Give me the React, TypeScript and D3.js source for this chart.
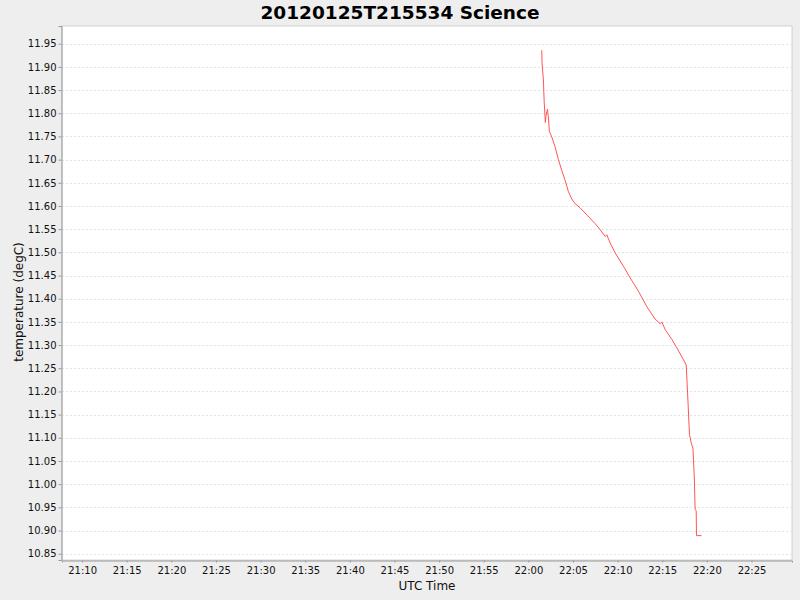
import React, { useEffect, useRef } from "react";
import * as d3 from "d3";

// Sample times (UTC, HH:MM:SS) and temperatures
const times: string[] = [
  "22:01:30", "22:01:32", "22:01:41", "22:01:46", "22:01:54", "22:01:59",
  "22:02:08", "22:02:14", "22:02:21", "22:02:37", "22:02:59", "22:03:22",
  "22:03:45", "22:04:07", "22:04:29", "22:04:52", "22:05:14", "22:05:48",
  "22:06:35", "22:07:29", "22:08:02", "22:08:36", "22:08:47", "22:09:10",
  "22:09:43", "22:10:39", "22:11:24", "22:12:20", "22:13:16", "22:14:12",
  "22:14:46", "22:14:57", "22:15:20", "22:16:05", "22:16:38", "22:17:23",
  "22:17:41", "22:17:50", "22:18:03", "22:18:08", "22:18:16", "22:18:26",
  "22:18:35", "22:18:41", "22:18:48", "22:18:50", "22:19:24",
];

const temperatures: number[] = [
  11.936, 11.907, 11.872, 11.826, 11.78, 11.795,
  11.809, 11.793, 11.761, 11.749, 11.728, 11.7,
  11.676, 11.655, 11.631, 11.615, 11.605, 11.596,
  11.58, 11.562, 11.549, 11.534, 11.538, 11.52,
  11.499, 11.47, 11.445, 11.416, 11.383, 11.356,
  11.346, 11.35, 11.333, 11.312, 11.294, 11.268,
  11.257, 11.197, 11.107, 11.1, 11.087, 11.078,
  11.017, 10.945, 10.943, 10.889, 10.889,
];

const xDomain: string[] = ["21:07:45", "22:29:32"];
const yDomain: number[] = [10.8364, 11.9882];
const yTicks: number[] = [
  10.85, 10.9, 10.95, 11.0, 11.05, 11.1, 11.15, 11.2, 11.25, 11.3, 11.35, 11.4,
  11.45, 11.5, 11.55, 11.6, 11.65, 11.7, 11.75, 11.8, 11.85, 11.9, 11.95,
];

const title = "20120125T215534 Science";
const xLabel = "UTC Time";
const yLabel = "temperature (degC)";

const W = 800;
const H = 600;
const plot = { left: 62, top: 26, right: 792, bottom: 560 };
const FONT = "'DejaVu Sans', Verdana, sans-serif";

export default function App() {
  const svgRef = useRef<SVGSVGElement | null>(null);

  useEffect(() => {
    if (!svgRef.current) return;
    document.body.style.margin = "0";

    const svg = d3.select(svgRef.current);
    svg.selectAll("*").remove();

    const parse = d3.utcParse("%Y-%m-%d %H:%M:%S");
    const day = "2012-01-25 ";
    const data = times.map((t, i) => ({ t: parse(day + t) as Date, v: temperatures[i] }));

    const x = d3.scaleUtc()
      .domain(xDomain.map((t) => parse(day + t) as Date))
      .range([plot.left, plot.right]);
    const y = d3.scaleLinear().domain(yDomain).range([plot.bottom, plot.top]);

    // backgrounds
    svg.append("rect").attr("width", W).attr("height", H).attr("fill", "#eeeeee");
    svg.append("rect")
      .attr("x", plot.left).attr("y", plot.top)
      .attr("width", plot.right - plot.left).attr("height", plot.bottom - plot.top)
      .attr("fill", "#ffffff")
      .attr("stroke", "#aaaaaa").attr("stroke-width", 0.5);

    // horizontal gridlines
    svg.append("g")
      .selectAll("line")
      .data(yTicks)
      .enter()
      .append("line")
      .attr("x1", plot.left).attr("x2", plot.right)
      .attr("y1", (d) => Math.round(y(d)) + 0.5)
      .attr("y2", (d) => Math.round(y(d)) + 0.5)
      .attr("stroke", "#e3e3e3")
      .attr("stroke-width", 1)
      .attr("stroke-dasharray", "2,2");

    // title
    svg.append("text")
      .attr("x", W / 2).attr("y", 18.5)
      .attr("text-anchor", "middle")
      .attr("font-family", FONT)
      .attr("font-weight", "bold")
      .attr("font-size", 18.5)
      .attr("fill", "#000")
      .text(title);

    // y axis
    const yAxis = d3.axisLeft(y)
      .tickValues(yTicks)
      .tickFormat(d3.format(".2f"))
      .tickSize(3)
      .tickPadding(2);
    const gy = svg.append("g")
      .attr("transform", `translate(${plot.left - 0.5},0)`)
      .call(yAxis);
    gy.select(".domain").attr("stroke", "#999");
    gy.selectAll(".tick line").attr("stroke", "#999");
    gy.selectAll(".tick text")
      .attr("font-family", FONT).attr("font-size", 10).attr("fill", "#111");

    // x axis
    const xTicks = d3.utcMinute.every(5)!.range(x.domain()[0], x.domain()[1]);
    const xAxis = d3.axisBottom(x)
      .tickValues(xTicks)
      .tickFormat(d3.utcFormat("%H:%M") as any)
      .tickSize(2)
      .tickPadding(4);
    const gx = svg.append("g")
      .attr("transform", `translate(0,${plot.bottom + 0.5})`)
      .call(xAxis);
    gx.select(".domain").attr("stroke", "#999");
    gx.selectAll(".tick line").attr("stroke", "#999");
    gx.selectAll(".tick text")
      .attr("font-family", FONT).attr("font-size", 10).attr("fill", "#111");

    // axis labels
    svg.append("text")
      .attr("x", (plot.left + plot.right) / 2).attr("y", 590)
      .attr("text-anchor", "middle")
      .attr("font-family", FONT).attr("font-size", 12).attr("fill", "#111")
      .text(xLabel);
    svg.append("text")
      .attr("transform", `translate(23,302) rotate(-90)`)
      .attr("text-anchor", "middle")
      .attr("font-family", FONT).attr("font-size", 12).attr("fill", "#111")
      .text(yLabel);

    // series line
    const line = d3.line<{ t: Date; v: number }>()
      .x((d) => x(d.t))
      .y((d) => y(d.v));
    svg.append("path")
      .datum(data)
      .attr("d", line)
      .attr("fill", "none")
      .attr("stroke", "#ff5555")
      .attr("stroke-width", 1);
  }, []);

  return (
    <svg
      ref={svgRef}
      width={W}
      height={H}
      style={{ display: "block", position: "absolute", left: 0, top: 0 }}
    />
  );
}
